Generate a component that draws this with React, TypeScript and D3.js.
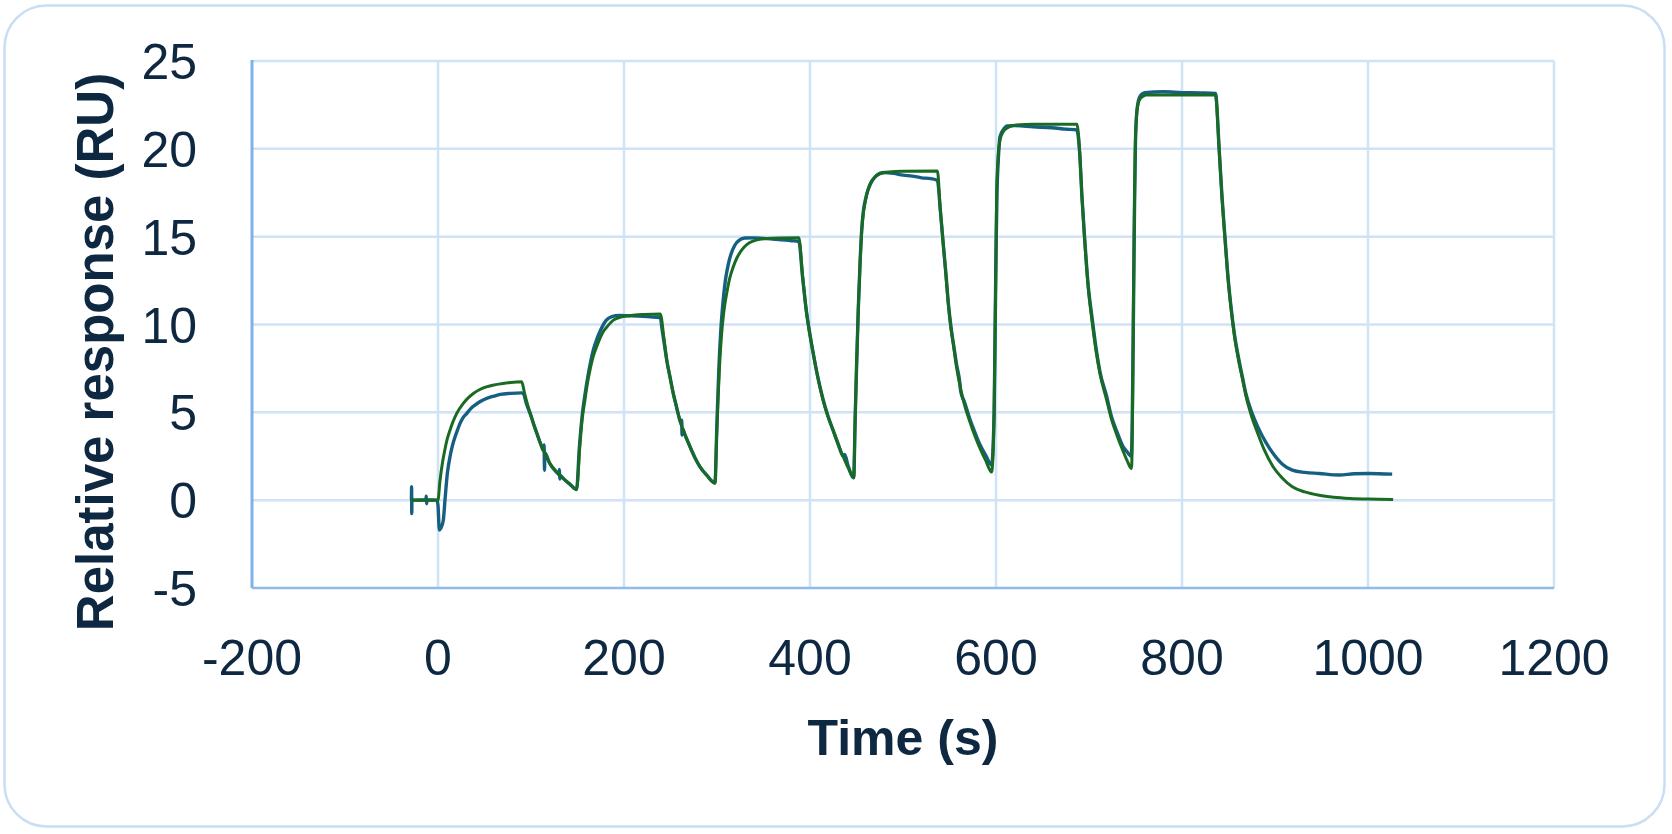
import * as d3 from "d3";

// time (s) and relative response (RU)
const measuredPts: [number, number][] = [
  [-30, 0], [-28.6, 0.05], [-28.4, 0.76], [-28.2, -0.76], [-28.0, 0.1], [-27, 0],
  [-13, 0.02], [-12.6, 0.22], [-12.2, -0.2], [-11.8, 0.02], [-1, 0],
  [0, -0.3], [1.5, -1.7], [3, -1.6], [5.7, -1.14], [7.5, 0], [10, 1.5], [12.9, 2.47],
  [15.5, 3.1], [18.3, 3.6], [21, 4.0], [23.7, 4.37], [27, 4.7], [30.8, 4.93], [35, 5.2],
  [39.8, 5.41], [45, 5.6], [52, 5.79], [60, 5.92], [67, 6.02], [78, 6.08], [90, 6.11],
  [92, 6.05], [95, 5.5], [100, 4.8], [103, 4.3], [106, 3.85], [110, 3.25],
  [113.8, 2.8], [114.1, 3.15], [114.5, 1.7], [114.9, 2.7], [120, 2.1], [127, 1.62],
  [130.3, 1.45], [130.6, 1.75], [130.9, 1.2], [131.2, 1.42], [135, 1.22], [142, 0.9], [149, 0.6],
  [152, 3.0], [155, 4.8], [158, 6.0], [161, 7.0], [164, 7.85], [167, 8.55], [171, 9.2],
  [175, 9.7], [181, 10.25], [187, 10.45], [195, 10.52], [205, 10.5], [215, 10.48],
  [225, 10.45], [232, 10.42], [239, 10.4],
  [241, 9.7], [243, 9.0], [246, 7.95], [249.5, 7.0], [253, 6.07], [256.5, 5.3], [260, 4.56],
  [261.8, 4.3], [262.1, 4.55], [262.4, 3.7], [262.7, 4.1], [265, 3.8], [271, 3.04], [276, 2.45],
  [281.7, 1.9], [289, 1.42], [297.8, 0.97],
  [300, 4.5], [302, 7.5], [304, 9.6], [306.5, 11.3], [309, 12.5], [312, 13.4], [315, 14.0],
  [319, 14.5], [324, 14.8], [330, 14.92], [340, 14.93], [350, 14.9], [360, 14.87],
  [370, 14.82], [380, 14.77], [388, 14.72],
  [392, 12.7], [396, 10.8], [400, 9.4], [403.5, 8.35], [408, 7.1], [414, 5.75], [419, 4.85],
  [424.7, 4.0], [430, 3.25], [435.8, 2.5], [437.3, 2.6], [441, 1.95], [447, 1.28],
  [448.5, 4.5], [450, 7.5], [452, 11.0], [453.8, 13.5], [455.6, 15.4], [457.5, 16.5],
  [459.5, 17.1], [462, 17.6], [465, 18.0], [470, 18.4], [475, 18.6], [480, 18.65],
  [490, 18.6], [500, 18.5], [510, 18.45], [520, 18.35], [530, 18.3], [537, 18.2],
  [540, 16.6], [543.4, 14.5], [546, 13.0], [548.8, 11.2], [551.5, 9.9], [554.2, 8.9],
  [557.5, 7.75], [561.3, 6.6], [562, 6.2], [566, 5.6], [572, 4.6], [577, 3.9],
  [582.8, 3.15], [589, 2.55], [595.3, 2.0],
  [598, 5], [599, 9.5], [600, 14], [601, 17.3], [602.5, 19.4], [604.3, 20.7], [608, 21.1],
  [612, 21.3], [620, 21.32], [640, 21.25], [660, 21.2], [675, 21.12], [687, 21.07],
  [689.9, 19.8], [692.5, 17.2], [695.2, 15.0], [699, 12.3], [703.5, 10.3], [708, 8.5],
  [711.8, 7.3], [719, 5.9], [724.2, 4.75], [730, 3.9], [736.6, 3.05], [741, 2.75], [745.5, 2.5],
  [747.5, 9], [749, 17], [750, 20.5], [752, 22.4], [755, 23.0], [760, 23.2], [780, 23.25],
  [800, 23.2], [820, 23.18], [836, 23.15],
  [840, 19.95], [843, 17.3], [846.3, 14.9], [849, 13.0], [852.5, 11.1], [856.5, 9.4],
  [860.8, 8.1], [865, 7.0], [869, 6.0], [875, 5.0], [881.5, 4.17], [890, 3.3], [898, 2.66],
  [908, 2.05], [918.6, 1.71], [932, 1.58], [947.5, 1.52], [969, 1.43], [985, 1.5],
  [1001, 1.52], [1026, 1.48],
];

const fitPts: [number, number][] = [
  [-30, 0], [0, 0],
  [2, 1.05], [5, 2.2], [7.5, 2.9], [10, 3.5], [13, 4.0], [16, 4.45], [20, 4.93], [27, 5.5],
  [33, 5.85], [38, 6.07], [45, 6.3], [52, 6.45], [60, 6.56], [67, 6.62], [78, 6.7], [90, 6.74],
  [93, 6.1], [96, 5.5], [100, 4.8], [103, 4.3], [106, 3.85], [110, 3.25], [115, 2.65],
  [120, 2.12], [127, 1.65], [135, 1.22], [142, 0.9], [149, 0.62],
  [152.7, 3.2], [155, 4.6], [158, 5.7], [160.5, 6.6], [163.4, 7.4], [167, 8.2], [170.6, 8.73],
  [174, 9.2], [177.8, 9.6], [183, 9.95], [188.6, 10.25], [195, 10.4], [203, 10.48],
  [212, 10.54], [221, 10.57], [239, 10.6],
  [243, 9.2], [246, 7.97], [249.5, 7.0], [253, 6.07], [256.5, 5.3], [260, 4.56], [265, 3.8],
  [271, 3.04], [276, 2.45], [281.7, 1.9], [289, 1.42], [297.8, 0.99],
  [299.5, 3.5], [301.4, 6.07], [303, 7.9], [305, 9.5], [307.5, 10.8], [310.4, 11.77],
  [313.5, 12.6], [317.5, 13.29], [321.5, 13.8], [326.5, 14.24], [332, 14.55], [339, 14.75],
  [346, 14.85], [353.4, 14.9], [370, 14.93], [388, 14.94],
  [392, 12.8], [396, 10.8], [400, 9.4], [403.5, 8.35], [408, 7.1], [414, 5.7], [419, 4.8],
  [424.7, 3.99], [430, 3.2], [435.8, 2.47], [441, 1.85], [447, 1.3],
  [448.5, 4.5], [450, 7.5], [452, 11.0], [453.8, 13.4], [455.6, 15.3], [457.5, 16.4],
  [459.5, 17.0], [461.5, 17.5], [464.5, 18.0], [469.9, 18.4], [475, 18.58], [485, 18.68],
  [500, 18.72], [537, 18.74],
  [540, 16.6], [543.4, 14.5], [546, 12.9], [548.8, 11.1], [551.5, 9.8], [554.2, 8.85],
  [557.5, 7.6], [561.3, 6.5], [566, 5.45], [572, 4.45], [577, 3.7], [582.8, 2.95],
  [589, 2.25], [595.3, 1.6],
  [598, 5], [599, 9.5], [600, 14], [600.7, 17.5], [602.5, 19.7], [604.3, 20.5], [607.5, 20.95],
  [611.5, 21.17], [616, 21.3], [622, 21.36], [640, 21.4], [687, 21.4],
  [689.9, 19.9], [692.5, 17.2], [695.2, 14.9], [699, 12.2], [703.5, 10.1], [708, 8.35],
  [711.8, 7.2], [719, 5.7], [724.2, 4.6], [730, 3.7], [736.6, 2.8], [741, 2.25], [745.7, 1.8],
  [747, 6], [747.6, 10.25], [748.5, 15], [749.5, 19.36], [751, 21.8], [753, 22.6],
  [755.3, 22.87], [758.4, 23.0], [761.3, 23.06], [836, 23.06],
  [840, 19.9], [843, 17.2], [846.3, 14.8], [849, 12.9], [852.5, 11.0], [856.5, 9.3],
  [860.8, 7.97], [865, 6.9], [869, 5.88], [875, 4.75], [881.5, 3.8], [889, 2.8], [898, 1.9],
  [908, 1.25], [918.6, 0.76], [932, 0.47], [947.5, 0.28], [963, 0.17], [980.6, 0.1],
  [1000, 0.06], [1027, 0.04],
];

const xTicks = [-200, 0, 200, 400, 600, 800, 1000, 1200];
const yTicks = [-5, 0, 5, 10, 15, 20, 25];

const W = 1672;
const H = 834;
const ink = "#0E2841";
const font = "'Liberation Sans', Arial, sans-serif";

export default function App() {
  const x = d3.scaleLinear().domain([-200, 1200]).range([252, 1554]);
  const y = d3.scaleLinear().domain([-5, 25]).range([588, 61]);

  const line = d3
    .line<[number, number]>()
    .x((d) => x(d[0]))
    .y((d) => y(d[1]))
    .curve(d3.curveMonotoneX);

  return (
    <div style={{ position: "absolute", left: 0, top: 0 }}>
      <svg width={W} height={H} style={{ display: "block", background: "#fff" }}>
        <rect x={4.5} y={5.5} width={1660} height={821} rx={42} fill="#fff" stroke="#c9def4" strokeWidth={2.5} />

        {/* grid */}
        {yTicks.slice(1).map((t) => (
          <line key={"gy" + t} x1={x(-200)} x2={x(1200)} y1={y(t)} y2={y(t)} stroke="#cfe2f6" strokeWidth={2.5} />
        ))}
        {xTicks.slice(1).map((t) => (
          <line key={"gx" + t} x1={x(t)} x2={x(t)} y1={y(25)} y2={y(-5)} stroke="#cfe2f6" strokeWidth={2.5} />
        ))}
        {/* axes */}
        <line x1={x(-200)} x2={x(1200)} y1={y(-5)} y2={y(-5)} stroke="#8ebbea" strokeWidth={2.5} />
        <line x1={x(-200)} x2={x(-200)} y1={y(25) - 1} y2={y(-5)} stroke="#7fb2e8" strokeWidth={3} />

        {/* tick labels */}
        {yTicks.map((t) => (
          <text key={"ty" + t} x={197} y={y(t)} dy="0.36em" textAnchor="end" fontFamily={font} fontSize={50} fill={ink}>
            {t}
          </text>
        ))}
        {xTicks.map((t) => (
          <text key={"tx" + t} x={x(t)} y={675} textAnchor="middle" fontFamily={font} fontSize={50} fill={ink}>
            {t}
          </text>
        ))}

        {/* series */}
        <path d={line(measuredPts) ?? ""} fill="none" stroke="#156082" strokeWidth={3.4} strokeLinejoin="round" />
        <path d={line(fitPts) ?? ""} fill="none" stroke="#196B24" strokeWidth={3} strokeLinejoin="round" />

        {/* titles */}
        <text x={903} y={755} textAnchor="middle" fontFamily={font} fontSize={50} fontWeight="bold" fill={ink}>
          Time (s)
        </text>
        <text
          transform={`translate(113, 352) rotate(-90)`}
          textAnchor="middle"
          fontFamily={font}
          fontSize={51}
          fontWeight="bold"
          fill={ink}
        >
          Relative response (RU)
        </text>
      </svg>
    </div>
  );
}
